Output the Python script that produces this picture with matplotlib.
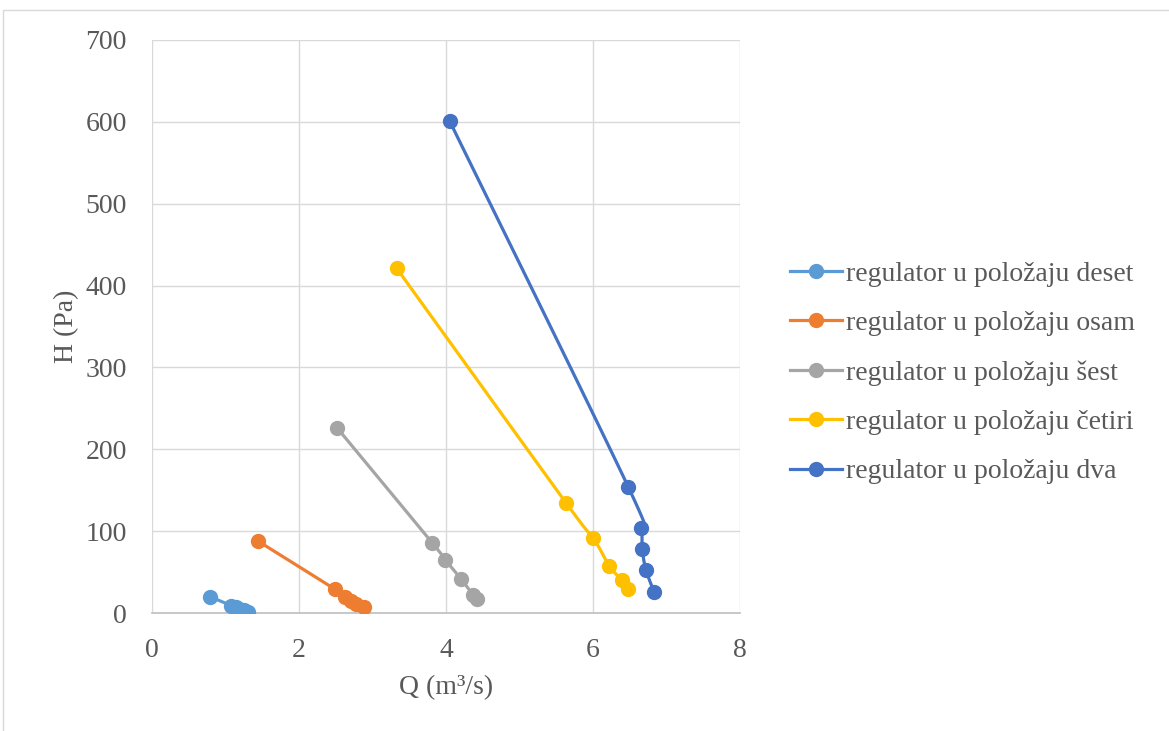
import numpy as np
from matplotlib import pyplot as plt
from matplotlib.patches import Rectangle

plt.rcParams['font.family'] = ['Liberation Serif', 'DejaVu Serif']

# Q (m3/s) i H (Pa) za svaki položaj regulatora
q_deset = [0.79, 1.08, 1.14, 1.19, 1.25, 1.31]
h_deset = [20, 9, 7, 5, 3.5, 1.5]
q_osam = [1.44, 2.49, 2.63, 2.71, 2.78, 2.88]
h_osam = [88, 29, 20, 15, 11, 7]
q_sest = [2.52, 3.81, 3.99, 4.21, 4.37, 4.42]
h_sest = [226, 86, 65, 41, 22, 17]
q_cetiri = [3.33, 5.63, 6.00, 6.22, 6.39, 6.48]
h_cetiri = [421, 135, 92, 58, 40, 29]
q_dva = [4.05, 6.48, 6.65, 6.67, 6.72, 6.83]
h_dva = [601, 154, 104, 78, 53, 26]

labels = ['regulator u položaju deset', 'regulator u položaju osam',
          'regulator u položaju šest', 'regulator u položaju četiri',
          'regulator u položaju dva']
colors = ['#5B9BD5', '#ED7D31', '#A5A5A5', '#FFC000', '#4472C4']
series = [(q_deset, h_deset), (q_osam, h_osam), (q_sest, h_sest),
          (q_cetiri, h_cetiri), (q_dva, h_dva)]


def smooth(xs, ys, n=20):
    # Catmull-Rom kriva kroz tačke (kao "smoothed line" u Excelu)
    p = np.column_stack([xs, ys]).astype(float)
    p = np.vstack([p[0], p, p[-1]])
    out = []
    for i in range(1, len(p) - 2):
        p0, p1, p2, p3 = p[i - 1], p[i], p[i + 1], p[i + 2]
        t = np.linspace(0, 1, n)[:, None]
        c = 0.5 * ((2 * p1) + (-p0 + p2) * t + (2 * p0 - 5 * p1 + 4 * p2 - p3) * t ** 2
                   + (-p0 + 3 * p1 - 3 * p2 + p3) * t ** 3)
        out.append(c)
    c = np.vstack(out)
    return c[:, 0], c[:, 1]


fig = plt.figure(figsize=(11.69, 7.31), dpi=100)
ax = fig.add_axes([0.130, 0.1614, 0.503, 0.7839])

for (q, h), lab, col in zip(series, labels, colors):
    sx, sy = smooth(q, h)
    ax.plot(sx, sy, color=col, lw=2.3, solid_capstyle='round', zorder=3)
    ax.plot(q, h, 'o', color=col, ms=10, zorder=4)
    ax.plot([], [], color=col, lw=2.3, marker='o', ms=10, label=lab)

ax.set_xlim(0, 8)
ax.set_ylim(0, 700)
ax.set_xticks(range(0, 9, 2))
ax.set_yticks(range(0, 701, 100))
ax.grid(True, color='#d9d9d9', lw=1)
ax.set_axisbelow(True)
for s in ['top', 'right', 'left']:
    ax.spines[s].set_visible(False)
ax.spines['bottom'].set_color('#bfbfbf')
ax.spines['bottom'].set_linewidth(1.2)
ax.tick_params(length=0, labelsize=20, labelcolor='#595959', pad=18)
ax.set_xlabel('Q (m³/s)', fontsize=20, color='#595959', labelpad=9)
ax.set_ylabel('H (Pa)', fontsize=20, color='#595959', labelpad=5)

fig.legend(loc='center left', bbox_to_anchor=(0.654, 0.49), frameon=False,
           fontsize=20, labelcolor='#595959', handlelength=1.9,
           handletextpad=0.15, labelspacing=0.86)

fig.patches.append(Rectangle((3 / 1169, -0.01), 1.1, 1 - 10 / 731 + 0.01,
                             transform=fig.transFigure, fill=False,
                             edgecolor='#d9d9d9', lw=1))

fig.savefig('out.png', dpi=100)
